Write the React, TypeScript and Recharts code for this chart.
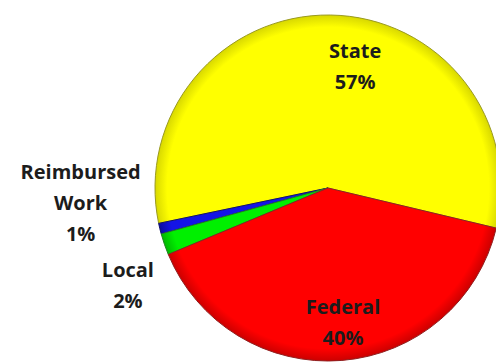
import { PieChart, Pie, Cell } from 'recharts'

document.body.style.margin = '0'

const SOURCES = ['State', 'Reimbursed Work', 'Local', 'Federal']
const SHARES = [57, 1, 2, 40]
const COLORS = ['#FFFF00', '#1414E6', '#00F000', '#FF0000']
const RIMS = ['#d8d800', '#0c0ca0', '#00b800', '#cc0000']
const EDGES = ['#9a9a20', '#101070', '#208020', '#902020']

// where each label sits: angle in degrees, radius as a fraction of the pie
const LABEL_POS: Record<string, { angle: number; r: number; lines: string[] }> = {
  State: { angle: 78.2, r: 0.766, lines: ['State'] },
  'Reimbursed Work': { angle: 177.9, r: 1.431, lines: ['Reimbursed', 'Work'] },
  Local: { angle: 203.9, r: 1.265, lines: ['Local'] },
  Federal: { angle: 276.8, r: 0.732, lines: ['Federal'] },
}

const data = SOURCES.map((name, i) => ({ name, value: SHARES[i] }))

const CX = 328
const CY = 188
const R = 173
const RAD = Math.PI / 180

function renderLabel(props: any) {
  const { cx, cy, outerRadius, name, value } = props
  const pos = LABEL_POS[name]
  if (!pos) return null
  const r = outerRadius * pos.r
  const x = cx + r * Math.cos(pos.angle * RAD)
  const y = cy - r * Math.sin(pos.angle * RAD)
  const lines = [...pos.lines, `${value}%`]
  return (
    <text
      x={x}
      y={y}
      textAnchor="middle"
      fill="#1c1c1c"
      fontFamily="'Open Sans', sans-serif"
      fontWeight={700}
      fontSize={20}
    >
      {lines.map((l, i) => (
        <tspan key={l} x={x} dy={i === 0 ? 0 : 31}>
          {l}
        </tspan>
      ))}
    </text>
  )
}

export default function App() {
  return (
    <div style={{ width: 496, height: 363, background: '#fff', overflow: 'hidden' }}>
      <PieChart width={496} height={363} margin={{ top: 0, right: 0, bottom: 0, left: 0 }}>
        <defs>
          {COLORS.map((c, i) => (
            <radialGradient
              key={c}
              id={`slice${i}`}
              gradientUnits="userSpaceOnUse"
              cx={CX}
              cy={CY}
              r={R}
            >
              <stop offset="0%" stopColor={c} />
              <stop offset="93%" stopColor={c} />
              <stop offset="100%" stopColor={RIMS[i]} />
            </radialGradient>
          ))}
        </defs>
        <Pie
          data={data}
          dataKey="value"
          nameKey="name"
          cx={CX}
          cy={CY}
          outerRadius={R}
          startAngle={-13.4}
          endAngle={346.6}
          label={renderLabel}
          labelLine={false}
          isAnimationActive={false}
        >
          {data.map((d, i) => (
            <Cell key={d.name} fill={`url(#slice${i})`} stroke={EDGES[i]} strokeWidth={1} />
          ))}
        </Pie>
      </PieChart>
    </div>
  )
}
